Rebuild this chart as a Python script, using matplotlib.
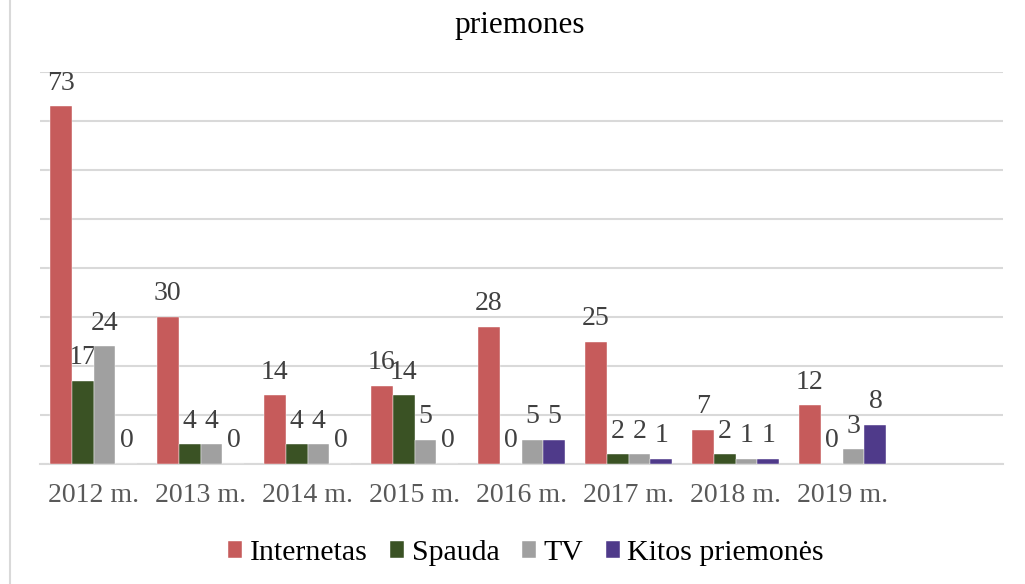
import matplotlib.pyplot as plt
import numpy as np
from matplotlib.lines import Line2D

plt.rcParams['font.family'] = ['Liberation Serif', 'DejaVu Serif']

years = ['2012 m.', '2013 m.', '2014 m.', '2015 m.', '2016 m.', '2017 m.', '2018 m.', '2019 m.', '']
internetas = [73, 30, 14, 16, 28, 25, 7, 12]
spauda = [17, 4, 4, 14, 0, 2, 2, 0]
tv = [24, 4, 4, 5, 5, 2, 1, 3]
kitos = [0, 0, 0, 0, 5, 1, 1, 8]

series = [('Internetas', internetas, '#C65B5B'),
          ('Spauda', spauda, '#3A5224'),
          ('TV', tv, '#A0A0A0'),
          ('Kitos priemonės', kitos, '#4F3A8A')]

fig = plt.figure(figsize=(10.25, 5.84), dpi=100)
ax = fig.add_axes([40 / 1025, 1 - 464 / 584, 963 / 1025, 392 / 584])

x = np.arange(len(internetas))
w = 0.205
for i, (name, vals, col) in enumerate(series):
    pos = x + (i - 1.5) * w
    ax.bar(pos, vals, w, color=col, label=name, zorder=3,
           edgecolor='white', linewidth=0.3)
    for p, v in zip(pos, vals):
        ax.annotate(str(v), (p, v), xytext=(0, 12), textcoords='offset points',
                    ha='center', va='baseline', fontsize=20, color='#404040', zorder=2)

ax.set_xlim(-0.5, 8.5)
ax.set_ylim(0, 80)
ax.set_yticks(np.arange(0, 81, 10))
ax.yaxis.grid(True, color='#D9D9D9', linewidth=1.5, zorder=0)
ax.set_yticklabels([])
ax.tick_params(axis='y', length=0)
ax.set_xticks(range(len(years)))
ax.set_xticklabels(years, fontsize=20, color='#595959')
ax.tick_params(axis='x', length=0, pad=14)
for s in ['top', 'right', 'left']:
    ax.spines[s].set_visible(False)
ax.spines['bottom'].set_color('#D9D9D9')
ax.spines['bottom'].set_linewidth(1.5)

fig.text(520 / 1025, 1 - 33 / 584, 'priemones', ha='center', va='baseline',
         fontsize=22.5, color='black')

fig.legend(loc='center', bbox_to_anchor=(526 / 1025, 1 - 553 / 584), ncol=4,
           frameon=False, fontsize=21.5, handlelength=0.47, handleheight=0.47,
           handletextpad=0.25, columnspacing=0.75)

fig.add_artist(Line2D([10 / 1025, 10 / 1025], [0, 1], color='#D9D9D9', linewidth=1.5))

fig.savefig('out.png', dpi=100)
